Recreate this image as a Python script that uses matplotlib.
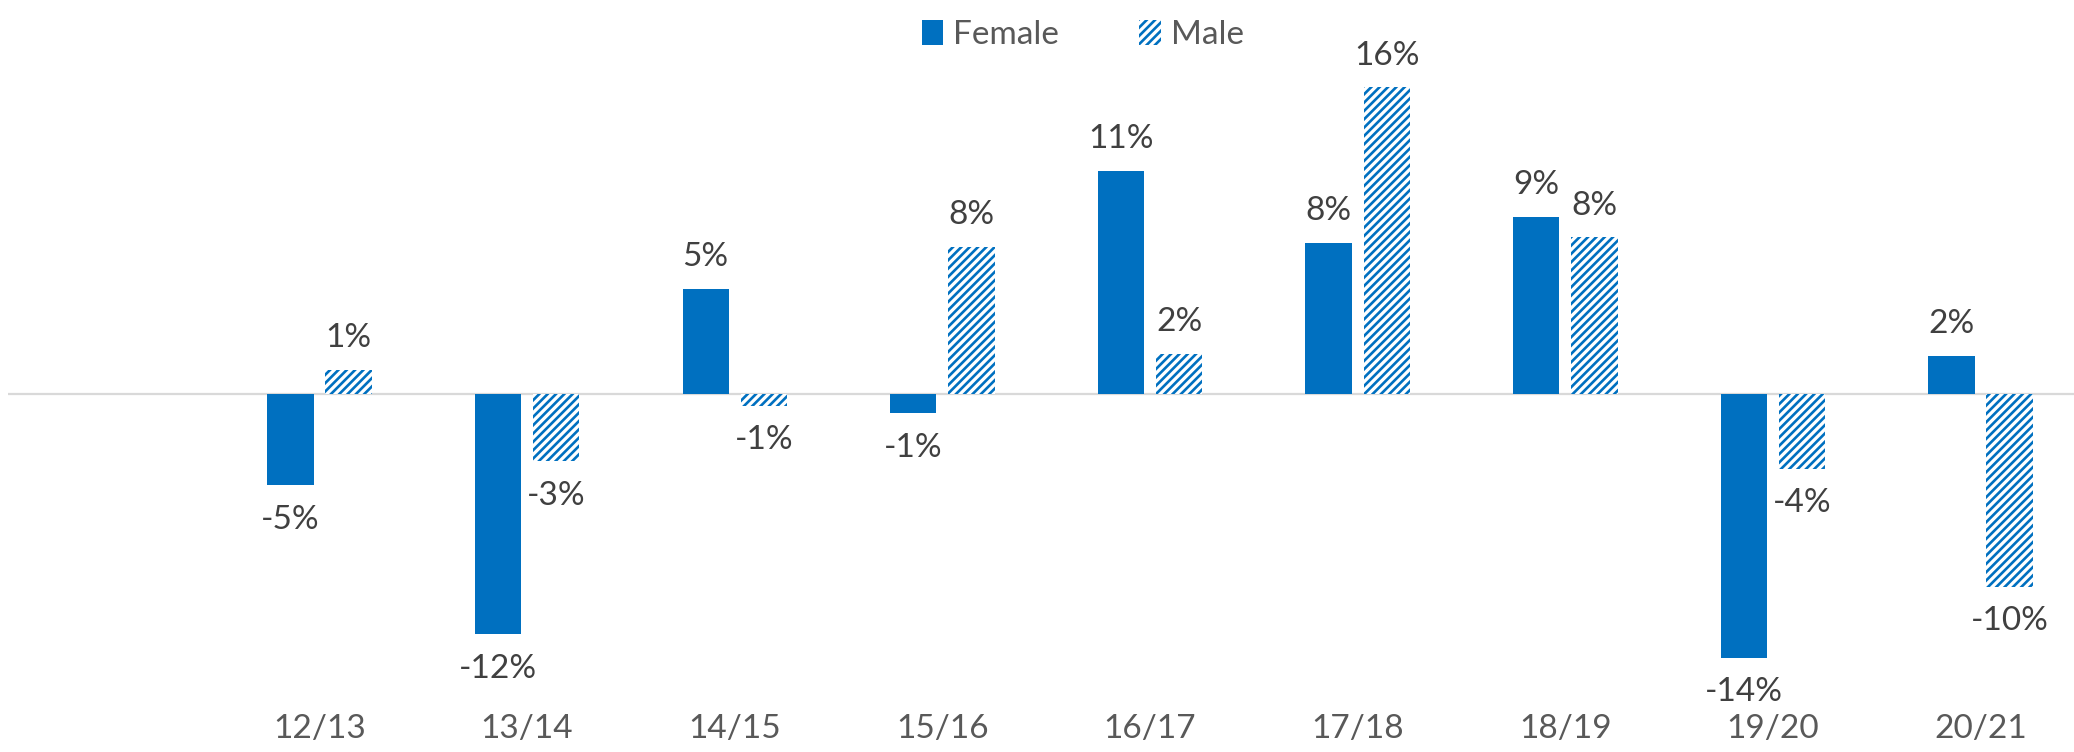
"""Year-on-year change by gender, grouped bar chart."""
import numpy as np
import matplotlib
matplotlib.use("Agg")
import matplotlib.pyplot as plt
from matplotlib.patches import Patch

# first slot is an empty category in the source chart
years = ["", "12/13", "13/14", "14/15", "15/16", "16/17",
         "17/18", "18/19", "19/20", "20/21"]
female = [np.nan, -4.7, -12.35, 5.4, -1.0, 11.45, 7.75, 9.1, -13.55, 1.95]
male = [np.nan, 1.25, -3.45, -0.6, 7.55, 2.05, 15.75, 8.05, -3.85, -9.9]

BLUE = "#0070C0"
plt.rcParams["font.family"] = ["Lato", "DejaVu Sans"]
plt.rcParams["hatch.linewidth"] = 1.9

fig = plt.figure(figsize=(20.74, 7.52), dpi=100)
W, H = 2074, 752
ax = fig.add_axes([8 / W, 52 / H, 1 - 8 / W, 660 / H])

x = np.arange(len(years))
w = 0.223
off = 0.14

b_f = ax.bar(x - off, female, w, color=BLUE, linewidth=0)
b_m = ax.bar(x + off, male, w, facecolor="white", edgecolor=BLUE,
             hatch="////", linewidth=0)

ax.axhline(0, color="#D9D9D9", linewidth=1.6, zorder=0)

for bars, vals in ((b_f, female), (b_m, male)):
    for rect, v in zip(bars, vals):
        if np.isnan(v):
            continue
        cx = rect.get_x() + rect.get_width() / 2
        if v >= 0:
            ax.annotate(f"{v:.0f}%", (cx, v), xytext=(0, 12),
                        textcoords="offset points", ha="center", va="bottom",
                        fontsize=24, color="#404040")
        else:
            ax.annotate(f"{v:.0f}%", (cx, v), xytext=(0, -14),
                        textcoords="offset points", ha="center", va="top",
                        fontsize=24, color="#404040")

ax.set_xlim(-0.5, 9.45)
ax.set_ylim(-15.72, 18.18)
ax.set_xticks(x)
ax.set_xticklabels(years, fontsize=24, color="#595959")
ax.tick_params(axis="x", length=0, pad=10)
ax.set_yticks([])
for s in ax.spines.values():
    s.set_visible(False)

handles = [Patch(facecolor=BLUE, linewidth=0, label="Female"),
           Patch(facecolor="white", edgecolor=BLUE, hatch="////",
                 linewidth=0, label="Male")]
fig.legend(handles=handles, loc="upper center", bbox_to_anchor=(0.522, 1.0),
           ncol=2, frameon=False, fontsize=24, labelcolor="#595959",
           handlelength=0.65, handleheight=0.75, handletextpad=0.3,
           columnspacing=2.4, borderaxespad=0.2)

fig.savefig("out.png", dpi=100)
